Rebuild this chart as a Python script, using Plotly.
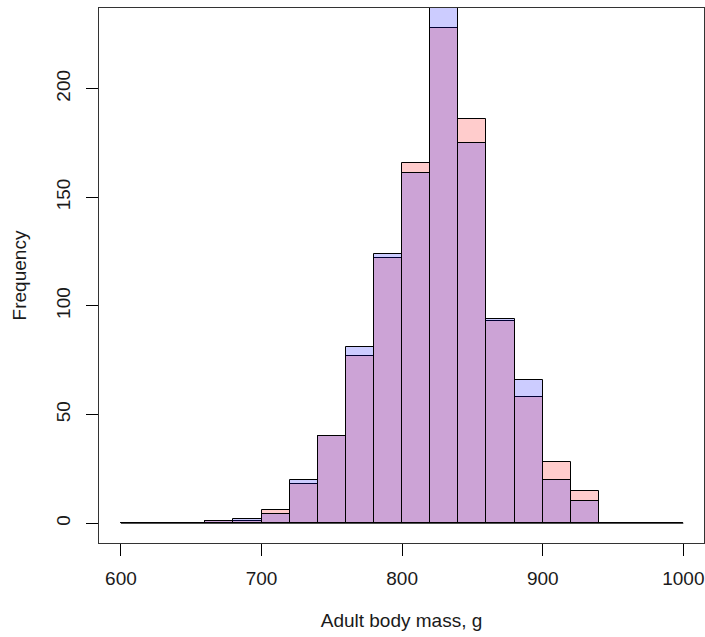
import numpy as np
import plotly.graph_objects as go

# Histogram breaks (g) and counts
breaks = list(range(600, 1001, 20))
counts_red = [0, 0, 0, 1, 1, 6, 18, 40, 77, 122, 166, 228, 186, 93, 58, 28, 15, 0, 0, 0]
counts_blue = [0, 0, 0, 1, 2, 4, 20, 40, 81, 124, 161, 242, 175, 94, 66, 20, 10, 0, 0, 0]
x_ticks = [600, 700, 800, 900, 1000]
y_ticks = [0, 50, 100, 150, 200]

edges = np.array(breaks, dtype=float)
centers = (edges[:-1] + edges[1:]) / 2
widths = np.diff(edges)

fig = go.Figure()
# zero-height bins collapse to a baseline in R's hist
fig.add_trace(go.Scatter(x=[edges[0], edges[-1]], y=[0, 0], mode="lines",
                         line=dict(color="black", width=1), showlegend=False,
                         hoverinfo="skip"))
fig.add_trace(go.Bar(x=centers, y=counts_red, width=widths,
                     marker=dict(color="rgba(255,0,0,0.2)",
                                 line=dict(color="black", width=1)),
                     showlegend=False))
fig.add_trace(go.Bar(x=centers, y=counts_blue, width=widths,
                     marker=dict(color="rgba(0,0,255,0.2)",
                                 line=dict(color="black", width=1)),
                     showlegend=False))

ymax = max(counts_red)
fig.update_layout(
    width=705, height=637,
    margin=dict(l=99, r=1, t=8, b=94),
    paper_bgcolor="white", plot_bgcolor="white",
    barmode="overlay", bargap=0,
    font=dict(family="Liberation Sans, Arial, sans-serif", size=19, color="#1a1a1a"),
    xaxis=dict(range=[584.4, 1014.7], tickvals=x_ticks, ticks="outside", ticklen=12,
               tickcolor="black", showgrid=False, zeroline=False, automargin=False,
               showline=True, linecolor="#333", linewidth=1, mirror=True,
               tickfont=dict(size=19),
               title=dict(text="Adult body mass, g", standoff=25, font=dict(size=19)),
               ticklabelstandoff=6),
    yaxis=dict(range=[-0.04 * ymax, 1.04 * ymax], tickvals=y_ticks, ticks="outside",
               ticklen=12, tickcolor="black", showgrid=False, zeroline=False,
               automargin=False,
               showline=True, linecolor="#333", linewidth=1, mirror=True,
               tickangle=-90, ticklabelstandoff=8, tickfont=dict(size=19),
               title=dict(text="Frequency", standoff=21, font=dict(size=19))),
)

fig.write_html("out.html", config={"displayModeBar": False},
               post_script="document.body.style.margin='0px';")
